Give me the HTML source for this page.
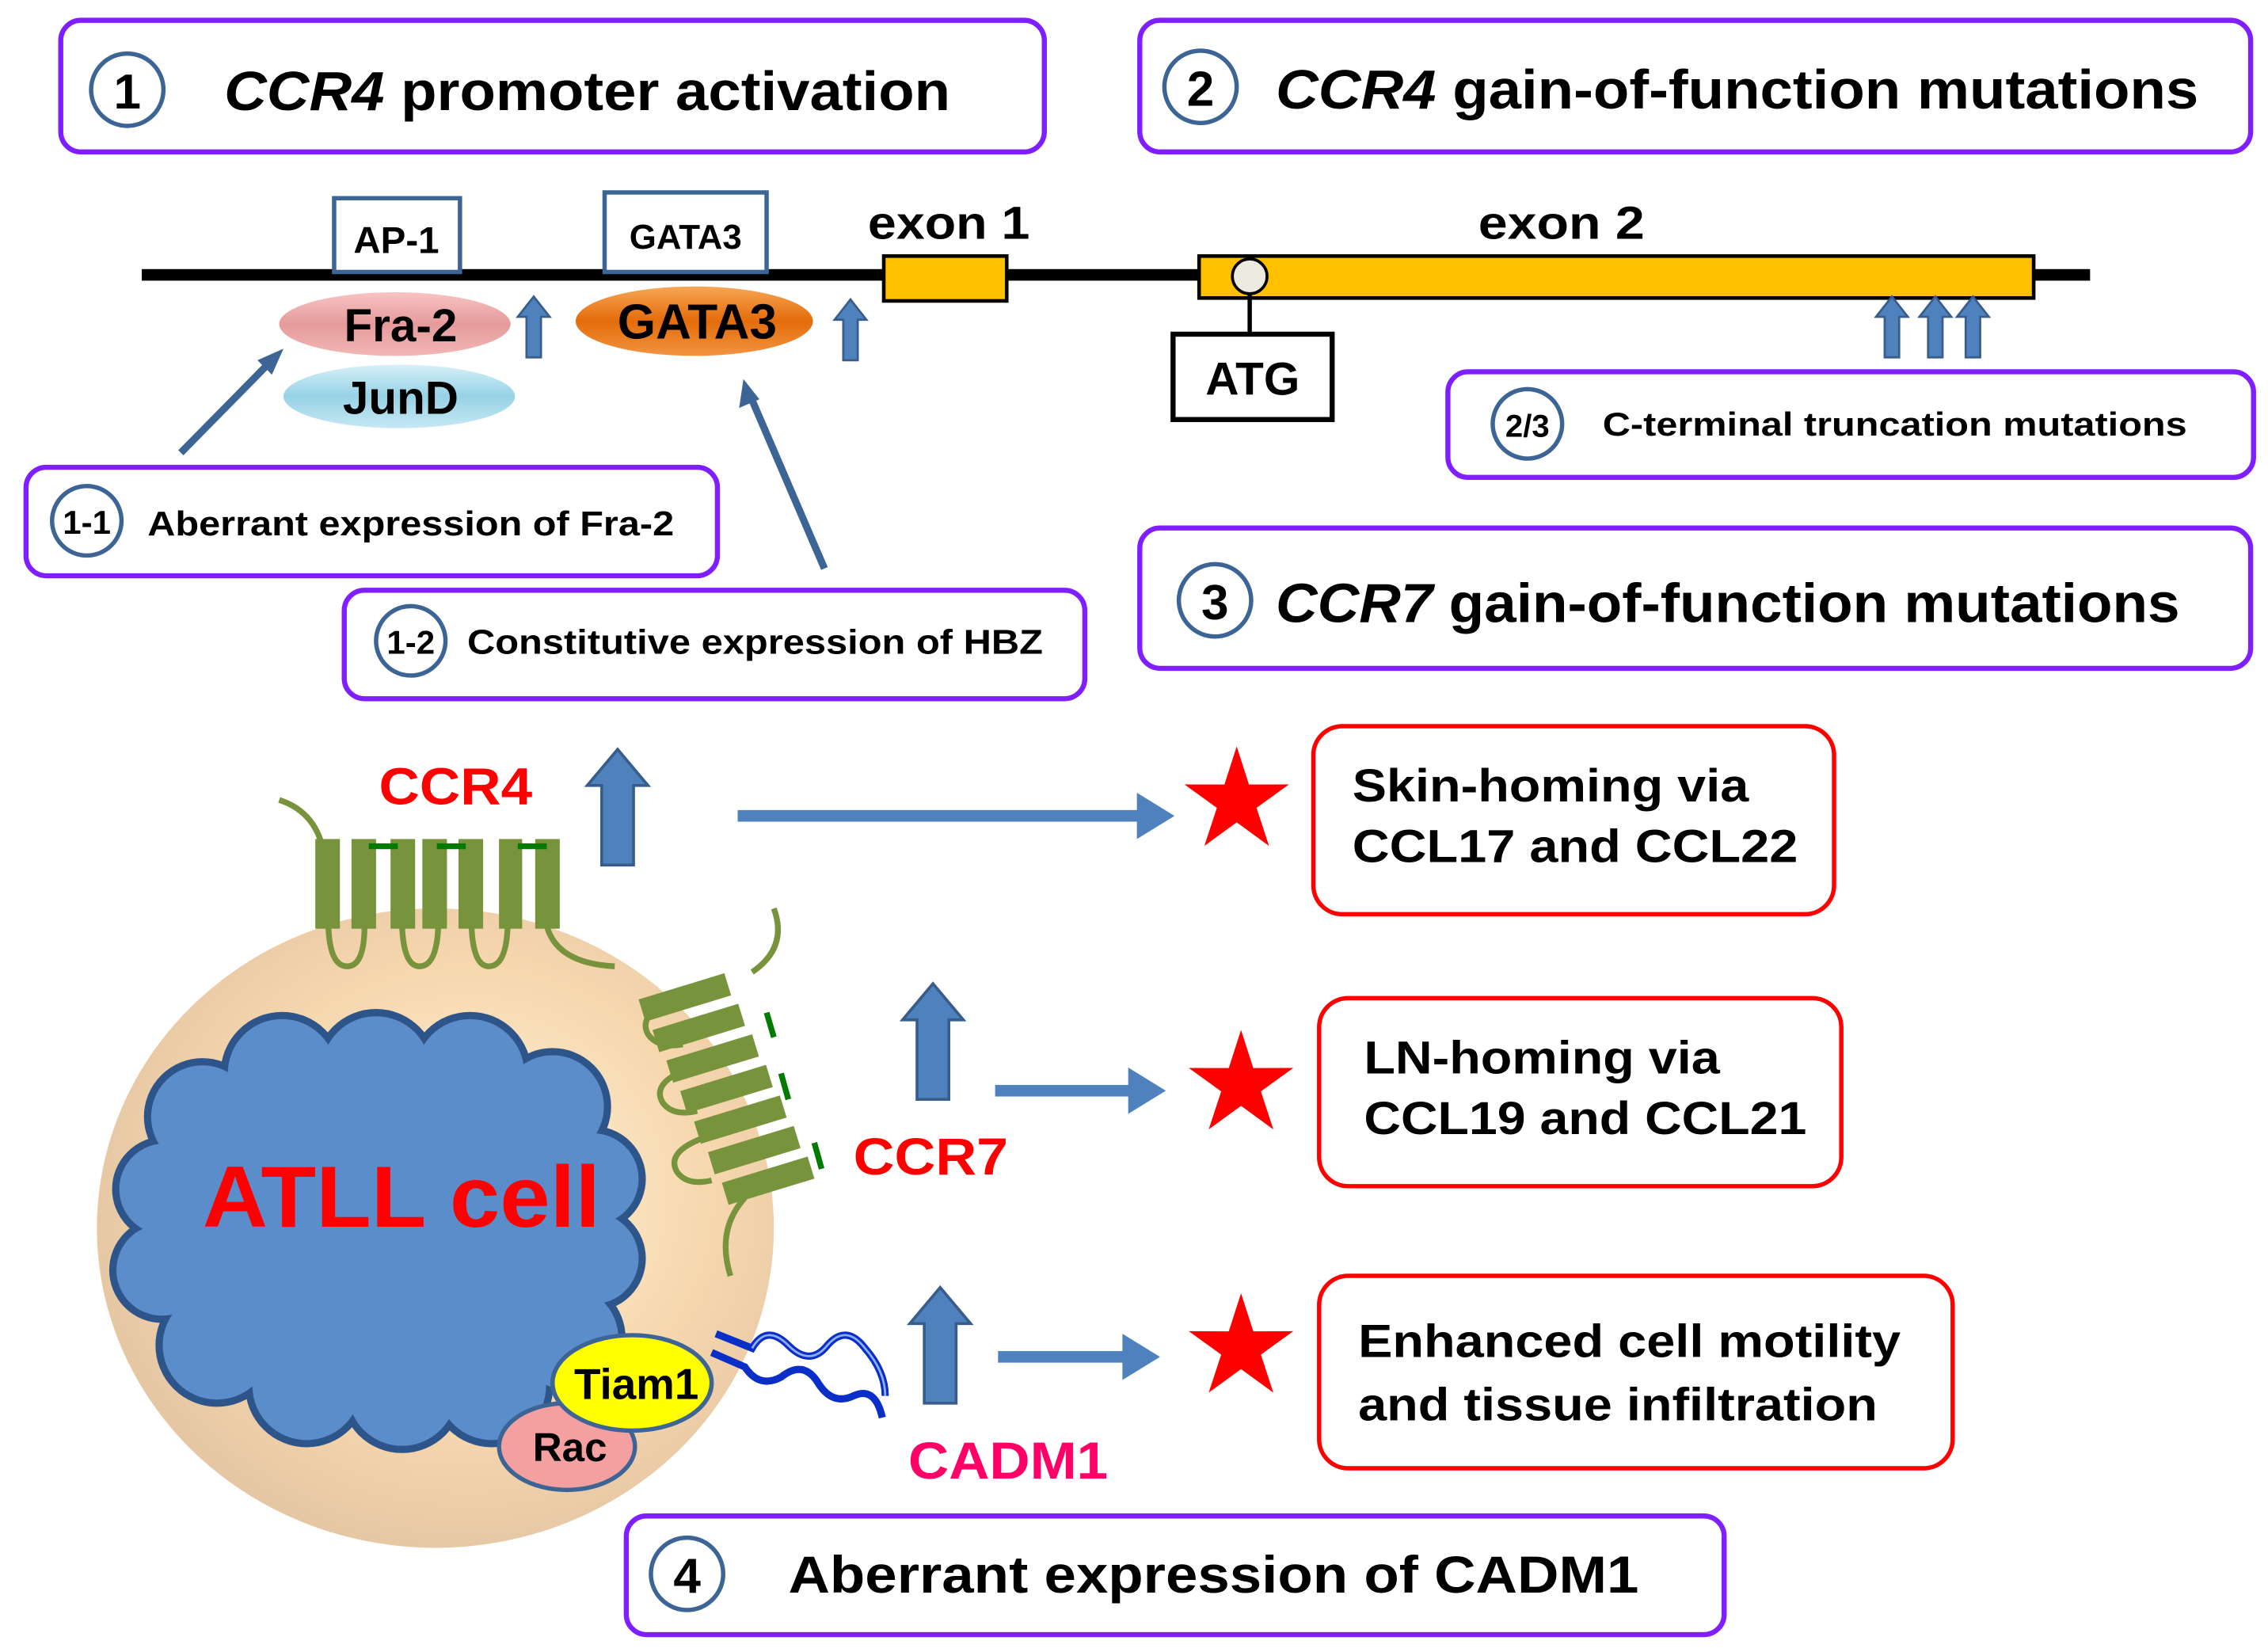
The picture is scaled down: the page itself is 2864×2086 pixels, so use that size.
<!DOCTYPE html>
<html><head><meta charset="utf-8"><style>
html,body{margin:0;padding:0;background:#fff;}
svg{display:block;}
text{font-family:"Liberation Sans",Arial,sans-serif;font-weight:bold;}
</style></head><body>
<svg width="2864" height="2086" viewBox="0 0 1568 1142" xmlns="http://www.w3.org/2000/svg">
<defs>
<radialGradient id="cellg" cx="0.55" cy="0.45" r="0.6">
<stop offset="0" stop-color="#FFF6D8"/><stop offset="0.6" stop-color="#F6D7AE"/><stop offset="1" stop-color="#E3C4A2"/>
</radialGradient>
<linearGradient id="frag" x1="0" y1="0" x2="0" y2="1"><stop offset="0" stop-color="#F8C4C4"/><stop offset="0.5" stop-color="#E59A9A"/><stop offset="1" stop-color="#F3B6B6"/></linearGradient>
<linearGradient id="jung" x1="0" y1="0" x2="0" y2="1"><stop offset="0" stop-color="#D6F0F8"/><stop offset="0.5" stop-color="#97D2E6"/><stop offset="1" stop-color="#C6E8F3"/></linearGradient>
<linearGradient id="gatag" x1="0" y1="0" x2="0" y2="1"><stop offset="0" stop-color="#F7A656"/><stop offset="0.5" stop-color="#E46C0A"/><stop offset="1" stop-color="#F29440"/></linearGradient>
<polygon id="star" points="0,-1 0.223,-0.307 0.951,-0.309 0.361,0.117 0.588,0.809 0,0.38 -0.588,0.809 -0.361,0.117 -0.951,-0.309 -0.223,-0.307" fill="#FF0000"/>
<polygon id="uparr" points="-11,0 -11,-55 -21,-55 0,-80 21,-55 11,-55 11,0" fill="#4F81BD" stroke="#385D8A" stroke-width="2"/>
<polygon id="smup" points="-5,0 -5,-28 -11,-28 0,-42 11,-28 5,-28 5,0" fill="#4F81BD" stroke="#385D8A" stroke-width="1.5"/>
</defs>

<!-- Box 1 -->
<rect x="42" y="14" width="680" height="91" rx="14" fill="#fff" stroke="#7F1FFF" stroke-width="3.5"/>
<circle cx="88" cy="62" r="25" fill="none" stroke="#3C6595" stroke-width="3"/>
<text x="88" y="75" font-size="34" text-anchor="middle">1</text>
<text x="155" y="76" font-size="38" textLength="502" lengthAdjust="spacingAndGlyphs"><tspan font-style="italic">CCR4</tspan> promoter activation</text>

<!-- Box 2 -->
<rect x="788" y="14" width="768" height="91" rx="14" fill="#fff" stroke="#7F1FFF" stroke-width="3.5"/>
<circle cx="830" cy="60" r="25" fill="none" stroke="#3C6595" stroke-width="3"/>
<text x="830" y="73" font-size="34" text-anchor="middle">2</text>
<text x="882" y="75" font-size="38" textLength="638" lengthAdjust="spacingAndGlyphs"><tspan font-style="italic">CCR4</tspan> gain-of-function mutations</text>

<!-- gene -->
<rect x="98" y="186" width="1347" height="8" fill="#000"/>
<rect x="231" y="137" width="87" height="51" fill="#fff" stroke="#3C6595" stroke-width="3"/>
<text x="274" y="175" font-size="26" text-anchor="middle">AP-1</text>
<rect x="418" y="133" width="112" height="55" fill="#fff" stroke="#3C6595" stroke-width="3"/>
<text x="474" y="172" font-size="24" text-anchor="middle">GATA3</text>
<text x="600" y="165" font-size="32" textLength="112" lengthAdjust="spacingAndGlyphs">exon 1</text>
<rect x="611" y="177" width="85" height="31" fill="#FFC000" stroke="#000" stroke-width="2.5"/>
<text x="1022" y="165" font-size="32" textLength="115" lengthAdjust="spacingAndGlyphs">exon 2</text>
<rect x="829" y="177" width="577" height="29" fill="#FFC000" stroke="#000" stroke-width="2.5"/>
<line x1="864" y1="195" x2="864" y2="231" stroke="#000" stroke-width="3"/>
<ellipse cx="864" cy="191" rx="12" ry="12" fill="#EDEBE0" stroke="#000" stroke-width="2"/>
<rect x="811" y="231" width="110" height="59" fill="#fff" stroke="#000" stroke-width="3.5"/>
<text x="866" y="273" font-size="32" text-anchor="middle">ATG</text>

<ellipse cx="276" cy="274" rx="80" ry="22" fill="url(#jung)"/>
<text x="277" y="286" font-size="32" text-anchor="middle">JunD</text>
<ellipse cx="273" cy="224" rx="80" ry="22" fill="url(#frag)"/>
<text x="277" y="236" font-size="32" text-anchor="middle">Fra-2</text>
<ellipse cx="480" cy="222" rx="82" ry="24" fill="url(#gatag)"/>
<text x="482" y="234" font-size="34" text-anchor="middle">GATA3</text>
<use href="#smup" transform="translate(369,247)"/>
<use href="#smup" transform="translate(588,249)"/>
<use href="#smup" transform="translate(1308,247)"/>
<use href="#smup" transform="translate(1338,247)"/>
<use href="#smup" transform="translate(1364,247)"/>

<!-- diagonal arrows -->
<line x1="125" y1="313" x2="188" y2="249" stroke="#3C6595" stroke-width="5"/>
<polygon points="196,241 178,249 188,259" fill="#3C6595"/>
<line x1="570" y1="393" x2="518" y2="272" stroke="#3C6595" stroke-width="5"/>
<polygon points="514,262 511,282 525,276" fill="#3C6595"/>

<!-- 1-1 -->
<rect x="18" y="323" width="478" height="75" rx="14" fill="#fff" stroke="#7F1FFF" stroke-width="3.5"/>
<circle cx="60" cy="360" r="24" fill="none" stroke="#3C6595" stroke-width="3"/>
<text x="60" y="369" font-size="23" text-anchor="middle">1-1</text>
<text x="102" y="370" font-size="24" textLength="364" lengthAdjust="spacingAndGlyphs">Aberrant expression of Fra-2</text>
<!-- 1-2 -->
<rect x="238" y="408" width="512" height="75" rx="14" fill="#fff" stroke="#7F1FFF" stroke-width="3.5"/>
<circle cx="284" cy="443" r="24" fill="none" stroke="#3C6595" stroke-width="3"/>
<text x="284" y="452" font-size="23" text-anchor="middle">1-2</text>
<text x="323" y="452" font-size="24" textLength="398" lengthAdjust="spacingAndGlyphs">Constitutive expression of HBZ</text>
<!-- 2/3 -->
<rect x="1001" y="257" width="557" height="73" rx="14" fill="#fff" stroke="#7F1FFF" stroke-width="3.5"/>
<circle cx="1056" cy="293" r="24" fill="none" stroke="#3C6595" stroke-width="3"/>
<text x="1056" y="302" font-size="22" text-anchor="middle">2/3</text>
<text x="1108" y="301" font-size="23" textLength="404" lengthAdjust="spacingAndGlyphs">C-terminal truncation mutations</text>
<!-- 3 -->
<rect x="788" y="365" width="768" height="97" rx="14" fill="#fff" stroke="#7F1FFF" stroke-width="3.5"/>
<circle cx="840" cy="415" r="25" fill="none" stroke="#3C6595" stroke-width="3"/>
<text x="840" y="428" font-size="34" text-anchor="middle">3</text>
<text x="882" y="430" font-size="38" textLength="625" lengthAdjust="spacingAndGlyphs"><tspan font-style="italic">CCR7</tspan> gain-of-function mutations</text>

<!-- cell -->
<ellipse cx="301" cy="849" rx="234" ry="221" fill="url(#cellg)"/>
<g fill="#3C6BA5" stroke="#2E558A" stroke-width="5">
<ellipse cx="262" cy="850" rx="145" ry="115"/>
<circle cx="140" cy="772" r="38"/><circle cx="195" cy="742" r="40"/><circle cx="260" cy="740" r="40"/><circle cx="325" cy="742" r="40"/><circle cx="382" cy="765" r="38"/><circle cx="410" cy="815" r="34"/><circle cx="410" cy="870" r="34"/><circle cx="392" cy="925" r="38"/><circle cx="340" cy="958" r="40"/><circle cx="278" cy="962" r="40"/><circle cx="212" cy="958" r="40"/><circle cx="150" cy="930" r="40"/><circle cx="112" cy="878" r="34"/><circle cx="114" cy="822" r="34"/>
</g>
<g fill="#5B8DCB">
<ellipse cx="262" cy="850" rx="145" ry="115"/>
<circle cx="140" cy="772" r="35.5"/><circle cx="195" cy="742" r="37.5"/><circle cx="260" cy="740" r="37.5"/><circle cx="325" cy="742" r="37.5"/><circle cx="382" cy="765" r="35.5"/><circle cx="410" cy="815" r="31.5"/><circle cx="410" cy="870" r="31.5"/><circle cx="392" cy="925" r="35.5"/><circle cx="340" cy="958" r="37.5"/><circle cx="278" cy="962" r="37.5"/><circle cx="212" cy="958" r="37.5"/><circle cx="150" cy="930" r="37.5"/><circle cx="112" cy="878" r="31.5"/><circle cx="114" cy="822" r="31.5"/>
</g>
<text x="140" y="848" font-size="60" fill="#FF0000" textLength="275" lengthAdjust="spacingAndGlyphs">ATLL cell</text>

<!-- CCR4 receptor -->
<g stroke="#77933C" stroke-width="4" fill="none">
<path d="M193,553 Q215,560 222,582"/>
<path d="M227,640 Q228,668 240,668 Q252,668 252,640"/>
<path d="M278,640 Q279,668 290,668 Q302,668 303,640"/>
<path d="M326,640 Q327,668 338,668 Q350,668 351,640"/>
<path d="M378,640 Q385,666 425,668"/>
</g>
<g fill="#77933C">
<rect x="218" y="580" width="17" height="62"/><rect x="243" y="580" width="17" height="62"/><rect x="270" y="580" width="17" height="62"/><rect x="292" y="580" width="17" height="62"/><rect x="317" y="580" width="17" height="62"/><rect x="345" y="580" width="16" height="62"/><rect x="370" y="580" width="17" height="62"/>
</g>
<g fill="#007A00"><rect x="255" y="583" width="20" height="4"/><rect x="302" y="583" width="20" height="4"/><rect x="358" y="583" width="20" height="4"/></g>
<text x="262" y="556" font-size="36" fill="#FF0000" textLength="106" lengthAdjust="spacingAndGlyphs">CCR4</text>

<!-- CCR7 receptor -->
<g stroke="#77933C" stroke-width="4" fill="none">
<path d="M535,628 Q545,655 520,672"/>
<path d="M470,690 Q440,700 448,715 Q455,725 472,722"/>
<path d="M478,738 Q450,748 458,762 Q465,772 482,768"/>
<path d="M488,786 Q460,796 468,810 Q475,820 492,816"/>
<path d="M515,828 Q495,850 505,882"/>
</g>
<g fill="#77933C" transform="rotate(-17 515 750)">
<rect x="462" y="672" width="62" height="16"/><rect x="465" y="695" width="62" height="16"/><rect x="468" y="718" width="62" height="16"/><rect x="471" y="741" width="62" height="16"/><rect x="474" y="764" width="62" height="16"/><rect x="477" y="787" width="62" height="16"/><rect x="480" y="810" width="62" height="16"/>
</g>
<g stroke="#007A00" stroke-width="4"><line x1="530" y1="700" x2="535" y2="717"/><line x1="540" y1="742" x2="545" y2="760"/><line x1="563" y1="790" x2="568" y2="808"/></g>
<text x="590" y="812" font-size="36" fill="#FF0000" textLength="107" lengthAdjust="spacingAndGlyphs">CCR7</text>

<!-- CADM1 -->
<g fill="none" stroke="#0A2FC8" stroke-width="5">
<path d="M495,922 L520,932 Q530,915 545,930 Q560,945 572,930 Q585,915 598,932 Q612,948 612,965"/>
<path d="M492,935 L515,945 Q525,960 540,952 Q555,940 565,955 Q575,972 590,965 Q605,958 610,980"/>
</g>
<g fill="none" stroke="#8FB0F0" stroke-width="1.5">
<path d="M520,932 Q530,915 545,930 Q560,945 572,930 Q585,915 598,932 Q612,948 612,965"/>
</g>
<ellipse cx="392" cy="1000" rx="47" ry="30" fill="#F4A0A0" stroke="#3C6595" stroke-width="3"/>
<text x="394" y="1010" font-size="28" text-anchor="middle">Rac</text>
<ellipse cx="437" cy="956" rx="55" ry="33" fill="#FFFF00" stroke="#3C6595" stroke-width="3"/>
<text x="440" y="967" font-size="30" text-anchor="middle">Tiam1</text>
<text x="628" y="1022" font-size="36" fill="#FF0066" textLength="138" lengthAdjust="spacingAndGlyphs">CADM1</text>

<!-- block up arrows -->
<use href="#uparr" transform="translate(427,598)"/>
<use href="#uparr" transform="translate(645,760)"/>
<use href="#uparr" transform="translate(650,970)"/>

<!-- horizontal arrows -->
<g fill="#4F81BD">
<rect x="510" y="560" width="280" height="8"/><polygon points="786,548 812,564 786,580"/>
<rect x="688" y="750" width="96" height="8"/><polygon points="780,738 806,754 780,770"/>
<rect x="690" y="934" width="90" height="8"/><polygon points="776,922 802,938 776,954"/>
</g>

<use href="#star" transform="translate(855,554) scale(38)"/>
<use href="#star" transform="translate(858,750) scale(38)"/>
<use href="#star" transform="translate(858,932) scale(38)"/>

<rect x="908" y="502" width="360" height="130" rx="20" fill="#fff" stroke="#FF0000" stroke-width="3"/>
<text x="935" y="554" font-size="32" textLength="274" lengthAdjust="spacingAndGlyphs">Skin-homing via</text>
<text x="935" y="596" font-size="32" textLength="308" lengthAdjust="spacingAndGlyphs">CCL17 and CCL22</text>
<rect x="912" y="690" width="361" height="130" rx="20" fill="#fff" stroke="#FF0000" stroke-width="3"/>
<text x="943" y="742" font-size="32" textLength="246" lengthAdjust="spacingAndGlyphs">LN-homing via</text>
<text x="943" y="784" font-size="32" textLength="306" lengthAdjust="spacingAndGlyphs">CCL19 and CCL21</text>
<rect x="912" y="882" width="438" height="133" rx="20" fill="#fff" stroke="#FF0000" stroke-width="3"/>
<text x="939" y="938" font-size="32" textLength="375" lengthAdjust="spacingAndGlyphs">Enhanced cell motility</text>
<text x="939" y="982" font-size="32" textLength="359" lengthAdjust="spacingAndGlyphs">and tissue infiltration</text>

<!-- Box 4 -->
<rect x="433" y="1048" width="759" height="82" rx="14" fill="#fff" stroke="#7F1FFF" stroke-width="3.5"/>
<circle cx="475" cy="1088" r="25" fill="none" stroke="#3C6595" stroke-width="3"/>
<text x="475" y="1101" font-size="34" text-anchor="middle">4</text>
<text x="545" y="1101" font-size="36" textLength="588" lengthAdjust="spacingAndGlyphs">Aberrant expression of CADM1</text>
</svg>
</body></html>
